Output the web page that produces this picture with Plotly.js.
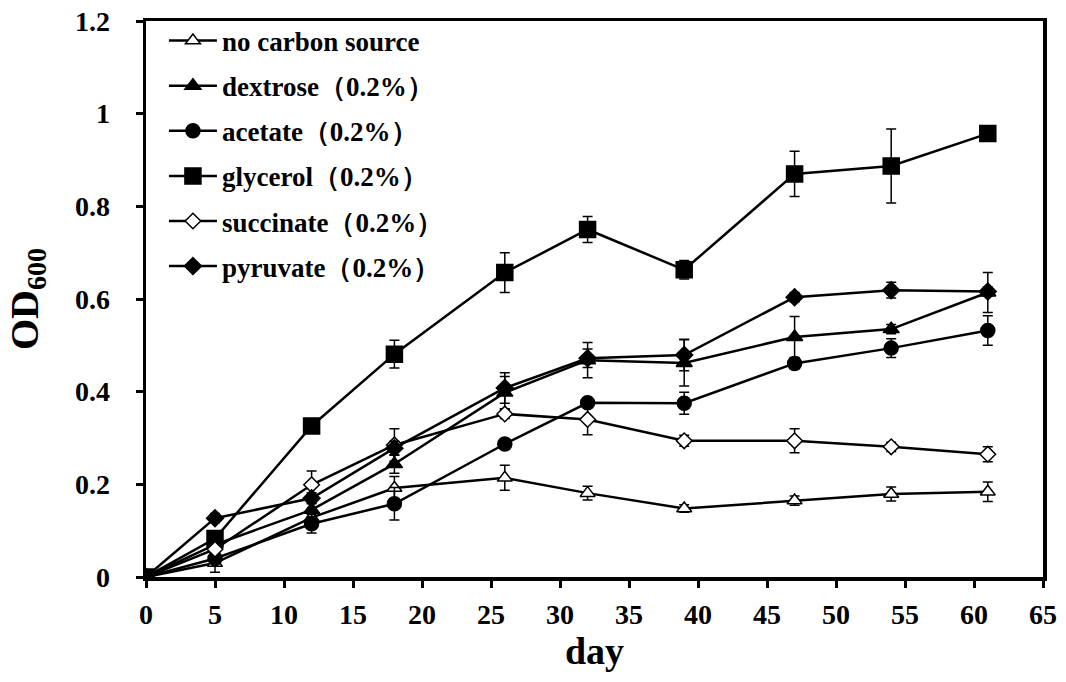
<!DOCTYPE html>
<html>
<head>
<meta charset="utf-8">
<script src="https://cdn.plot.ly/plotly-3.0.1.min.js"></script>
<style>html,body{margin:0;padding:0;background:#fff}#chart{width:1066px;height:682px}</style>
</head>
<body>
<div id="chart"></div>
<script>
const days = [0, 5, 12, 18, 26, 32, 39, 47, 54, 61];

const seriesNames = [
  "no carbon source",
  "dextrose（0.2%）",
  "acetate（0.2%）",
  "glycerol（0.2%）",
  "succinate（0.2%）",
  "pyruvate（0.2%）"
];

const noCarbon   = [0, 0.030, 0.128, 0.192, 0.214, 0.181, 0.148, 0.165, 0.179, 0.184];
const noCarbonSd = [0, 0.020, 0.015, 0.025, 0.027, 0.015, 0.008, 0.010, 0.015, 0.021];

const dextrose   = [0, 0.070, 0.145, 0.244, 0.398, 0.468, 0.462, 0.518, 0.535, 0.614];
const dextroseSd = [0, 0.010, 0.015, 0.020, 0.035, 0.038, 0.050, 0.044, 0.010, 0.043];

const acetate    = [0, 0.040, 0.115, 0.158, 0.287, 0.376, 0.375, 0.461, 0.494, 0.532];
const acetateSd  = [0, 0.010, 0.020, 0.035, 0.010, 0.010, 0.024, 0.012, 0.020, 0.032];

const glycerol   = [0, 0.083, 0.326, 0.481, 0.657, 0.750, 0.663, 0.870, 0.887, 0.957];
const glycerolSd = [0, 0.010, 0.015, 0.030, 0.043, 0.028, 0.020, 0.049, 0.080, 0.000];

const succinate   = [0, 0.060, 0.199, 0.285, 0.352, 0.340, 0.294, 0.294, 0.281, 0.265];
const succinateSd = [0, 0.010, 0.030, 0.035, 0.010, 0.033, 0.012, 0.026, 0.010, 0.016];

const pyruvate   = [0, 0.127, 0.170, 0.278, 0.408, 0.472, 0.479, 0.604, 0.619, 0.616];
const pyruvateSd = [0, 0.010, 0.012, 0.015, 0.033, 0.020, 0.034, 0.010, 0.017, 0.010];

const xTicks = [0, 5, 10, 15, 20, 25, 30, 35, 40, 45, 50, 55, 60, 65];
const yTicks = [0, 0.2, 0.4, 0.6, 0.8, 1, 1.2];
const yTickText = ["0", "0.2", "0.4", "0.6", "0.8", "1", "1.2"];

const values = [noCarbon, dextrose, acetate, glycerol, succinate, pyruvate];
const sds = [noCarbonSd, dextroseSd, acetateSd, glycerolSd, succinateSd, pyruvateSd];
const symbols = ["triangle-up", "triangle-up", "circle", "square", "diamond", "diamond"];
const fills = ["#ffffff", "#000000", "#000000", "#000000", "#ffffff", "#000000"];
const sizes = [13, 14, 14, 16, 12, 13];

const traces = seriesNames.map((name, i) => ({
  type: "scatter",
  mode: "lines+markers",
  name: name,
  legendgroup: "g" + i,
  x: days,
  y: values[i],
  error_y: {type: "data", array: sds[i], visible: true, color: "#000", thickness: 1.5, width: 5},
  line: {color: "#000", width: 2.5},
  marker: {symbol: symbols[i], size: sizes[i], color: fills[i], line: {color: "#000", width: 1.5}}
}));

const serif = "Liberation Serif, Times New Roman, serif";

const layout = {
  width: 1066, height: 682,
  margin: {l: 146, r: 23, t: 21, b: 105},
  paper_bgcolor: "#fff", plot_bgcolor: "#fff",
  showlegend: true,
  legend: {
    x: 0.02, y: 1.008, xanchor: "left", yanchor: "top",
    bgcolor: "rgba(0,0,0,0)", borderwidth: 0,
    traceorder: "grouped", tracegroupgap: 7, itemwidth: 48,
    font: {family: serif, size: 27, color: "#000", weight: "bold"}
  },
  xaxis: {
    range: [0, 65], tickmode: "array", tickvals: xTicks,
    ticks: "outside", ticklen: 7, tickwidth: 3, tickcolor: "#000",
    showline: true, linewidth: 3.5, linecolor: "#000", mirror: true,
    showgrid: false, zeroline: false, ticklabelstandoff: 3,
    tickfont: {family: serif, size: 28, color: "#000", weight: "bold"},
    title: {text: "day", font: {family: serif, size: 38, color: "#000", weight: "bold"}, standoff: 6}
  },
  yaxis: {
    range: [0, 1.2], tickmode: "array", tickvals: yTicks, ticktext: yTickText,
    ticks: "outside", ticklen: 7, tickwidth: 3, tickcolor: "#000",
    showline: true, linewidth: 3.5, linecolor: "#000", mirror: true,
    showgrid: false, zeroline: false, ticklabelstandoff: 20,
    tickfont: {family: serif, size: 28, color: "#000", weight: "bold"},
    title: {text: "OD<sub>600</sub>", font: {family: serif, size: 40, color: "#000", weight: "bold"}, standoff: 25}
  }
};

Plotly.newPlot("chart", traces, layout, {displayModeBar: false, staticPlot: true});
</script>
</body>
</html>
